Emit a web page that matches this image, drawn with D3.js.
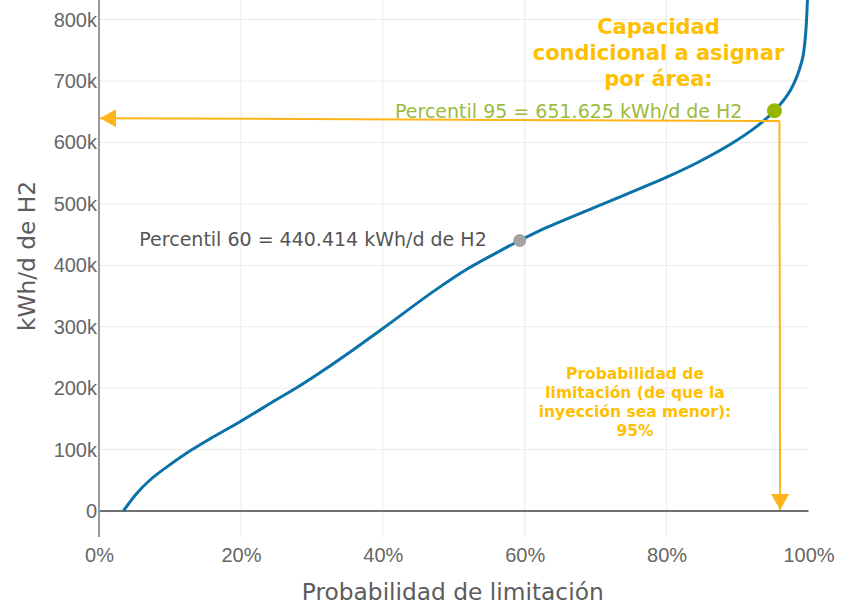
<!DOCTYPE html>
<html>
<head>
<meta charset="utf-8">
<title>Probabilidad de limitación</title>
<script src="https://cdn.jsdelivr.net/npm/d3@7"></script>
<style>
    body { margin: 0; background: white; }
    svg { display: block; font-family: "DejaVu Sans", Verdana, sans-serif; }
    .grid line { stroke: #ebebeb; stroke-width: 1px; }
    .tick text { fill: #666; font-size: 20px; }
    .axisTitle { fill: #5c5c5c; font-size: 23.3px; }
    .curve { fill: none; stroke: #0a72a8; stroke-width: 3px; }
    .gold { fill: #ffc000; font-weight: bold; text-anchor: middle; }
    .arrow { fill: none; stroke: #ffb41a; stroke-width: 2px; }
</style>
</head>
<body>
<script>

    // probability of limitation (fraction) and capacity (kWh/d de H2)
    const probs  = [0.0343, 0.0531, 0.0719, 0.0953, 0.1237, 0.1564, 0.1987, 0.251, 0.279, 0.326,
                    0.354, 0.401, 0.472, 0.519, 0.566, 0.593, 0.622, 0.702, 0.801, 0.843,
                    0.890, 0.928, 0.952, 0.975, 0.991, 0.996, 0.9985, 1.0];
    const values = [0, 28500, 50500, 71500, 94500, 117500, 145300, 182000, 201000, 236500,
                    259000, 298000, 358000, 394000, 424000, 440414, 457000, 496000, 544000, 567000,
                    597000, 627000, 651625, 686000, 734000, 778000, 832000, 880000];

    const xTicks = [0, 0.2, 0.4, 0.6, 0.8, 1];
    const yTicks = [0, 100000, 200000, 300000, 400000, 500000, 600000, 700000, 800000];

    const p60 = {p: 0.593, v: 440414, label: "Percentil 60 = 440.414 kWh/d de H2"};
    const p95 = {p: 0.952, v: 651625, label: "Percentil 95 = 651.625 kWh/d de H2"};

    // annotation arrows: corner, left tip, bottom tip
    const arrowCorner = [0.959, 635000];
    const arrowLeft   = [0.0015, 639500];
    const arrowBottom = [0.960, 1500];

    const titleLines = ["Capacidad", "condicional a asignar", "por área:"];
    const probLines  = ["Probabilidad de", "limitación (de que la", "inyección sea menor):", "95%"];

    const W = 841, H = 605;
    const pLeft = 99, pRight = 808.5, pTop = 0, pBottom = 537;

    const svg = d3.select("body").append("svg").attr("width", W).attr("height", H);

    const x = d3.scaleLinear().domain([0, 1]).range([pLeft, pRight]);
    const y = d3.scaleLinear().domain([-42300, 832000]).range([pBottom, pTop]);

    // grid
    const grid = svg.append("g").attr("class", "grid");
    grid.selectAll(".gx").data(xTicks.slice(1, -1)).enter().append("line")
        .attr("x1", d => x(d)).attr("x2", d => x(d))
        .attr("y1", pTop).attr("y2", pBottom);
    grid.selectAll(".gy").data(yTicks.slice(1)).enter().append("line")
        .attr("x1", pLeft).attr("x2", pRight)
        .attr("y1", d => y(d)).attr("y2", d => y(d));

    // axes
    const xAxis = svg.append("g")
        .attr("transform", "translate(0," + (pBottom + 8) + ")")
        .call(d3.axisBottom(x).tickValues(xTicks).tickFormat(d3.format(".0%")).tickSize(0));
    xAxis.select(".domain").remove();
    xAxis.selectAll("text").attr("dy", "0.71em").attr("y", 3);

    const yAxis = svg.append("g")
        .attr("transform", "translate(" + (pLeft - 2) + ",0)")
        .call(d3.axisLeft(y).tickValues(yTicks).tickFormat(d3.format("~s")).tickSize(0));
    yAxis.select(".domain").remove();
    yAxis.selectAll("text").attr("x", 0);

    // zero line and y axis line
    svg.append("line")
        .attr("x1", pLeft).attr("x2", pRight).attr("y1", y(0)).attr("y2", y(0))
        .attr("stroke", "#707070").attr("stroke-width", 2);
    svg.append("line")
        .attr("x1", pLeft).attr("x2", pLeft).attr("y1", pTop).attr("y2", pBottom)
        .attr("stroke", "#999").attr("stroke-width", 2);

    // titles
    svg.append("text").attr("class", "axisTitle")
        .attr("x", (pLeft + pRight) / 2 - 1).attr("y", 600)
        .attr("text-anchor", "middle")
        .text("Probabilidad de limitación");
    svg.append("text").attr("class", "axisTitle")
        .attr("transform", "translate(35,256) rotate(-90)")
        .attr("text-anchor", "middle")
        .text("kWh/d de H2");

    // curve
    const line = d3.line()
        .x((d, i) => x(probs[i]))
        .y(d => y(d))
        .curve(d3.curveCatmullRom.alpha(0.5));
    svg.append("path").attr("class", "curve").attr("d", line(values));

    // arrows
    const defs = svg.append("defs");
    defs.append("marker")
        .attr("id", "head")
        .attr("viewBox", "0 0 16 18")
        .attr("refX", 16).attr("refY", 9)
        .attr("markerWidth", 16).attr("markerHeight", 18)
        .attr("markerUnits", "userSpaceOnUse")
        .attr("orient", "auto")
        .append("path").attr("d", "M0,0L16,9L0,18Z").attr("fill", "#ffb41a");

    svg.append("path").attr("class", "arrow")
        .attr("d", "M" + x(arrowCorner[0]) + "," + y(arrowCorner[1]) + "L" + x(arrowLeft[0]) + "," + y(arrowLeft[1]))
        .attr("marker-end", "url(#head)");
    svg.append("path").attr("class", "arrow")
        .attr("d", "M" + x(arrowCorner[0]) + "," + y(arrowCorner[1]) + "L" + x(arrowBottom[0]) + "," + y(arrowBottom[1]))
        .attr("marker-end", "url(#head)");

    // percentile markers
    svg.append("circle").attr("cx", x(p60.p)).attr("cy", y(p60.v)).attr("r", 6.5).attr("fill", "#a3a3a3");
    svg.append("text").attr("x", x(p60.p) - 33).attr("y", y(p60.v) + 5.5)
        .attr("text-anchor", "end").attr("font-size", 19).attr("fill", "#555")
        .text(p60.label);

    svg.append("circle").attr("cx", x(p95.p)).attr("cy", y(p95.v)).attr("r", 7.5).attr("fill", "#97b600");
    svg.append("text").attr("x", x(p95.p) - 32).attr("y", y(p95.v) + 7)
        .attr("text-anchor", "end").attr("font-size", 19).attr("fill", "#9bbb3c")
        .text(p95.label);

    // gold annotations
    svg.append("text").attr("class", "gold").attr("font-size", 21)
        .selectAll("tspan").data(titleLines).enter().append("tspan")
        .attr("x", 658.5).attr("y", (d, i) => 33.5 + i * 26)
        .text(d => d);

    svg.append("text").attr("class", "gold").attr("font-size", 15.5)
        .selectAll("tspan").data(probLines).enter().append("tspan")
        .attr("x", 635).attr("y", (d, i) => 379 + i * 19)
        .text(d => d);

</script>
</body>
</html>
